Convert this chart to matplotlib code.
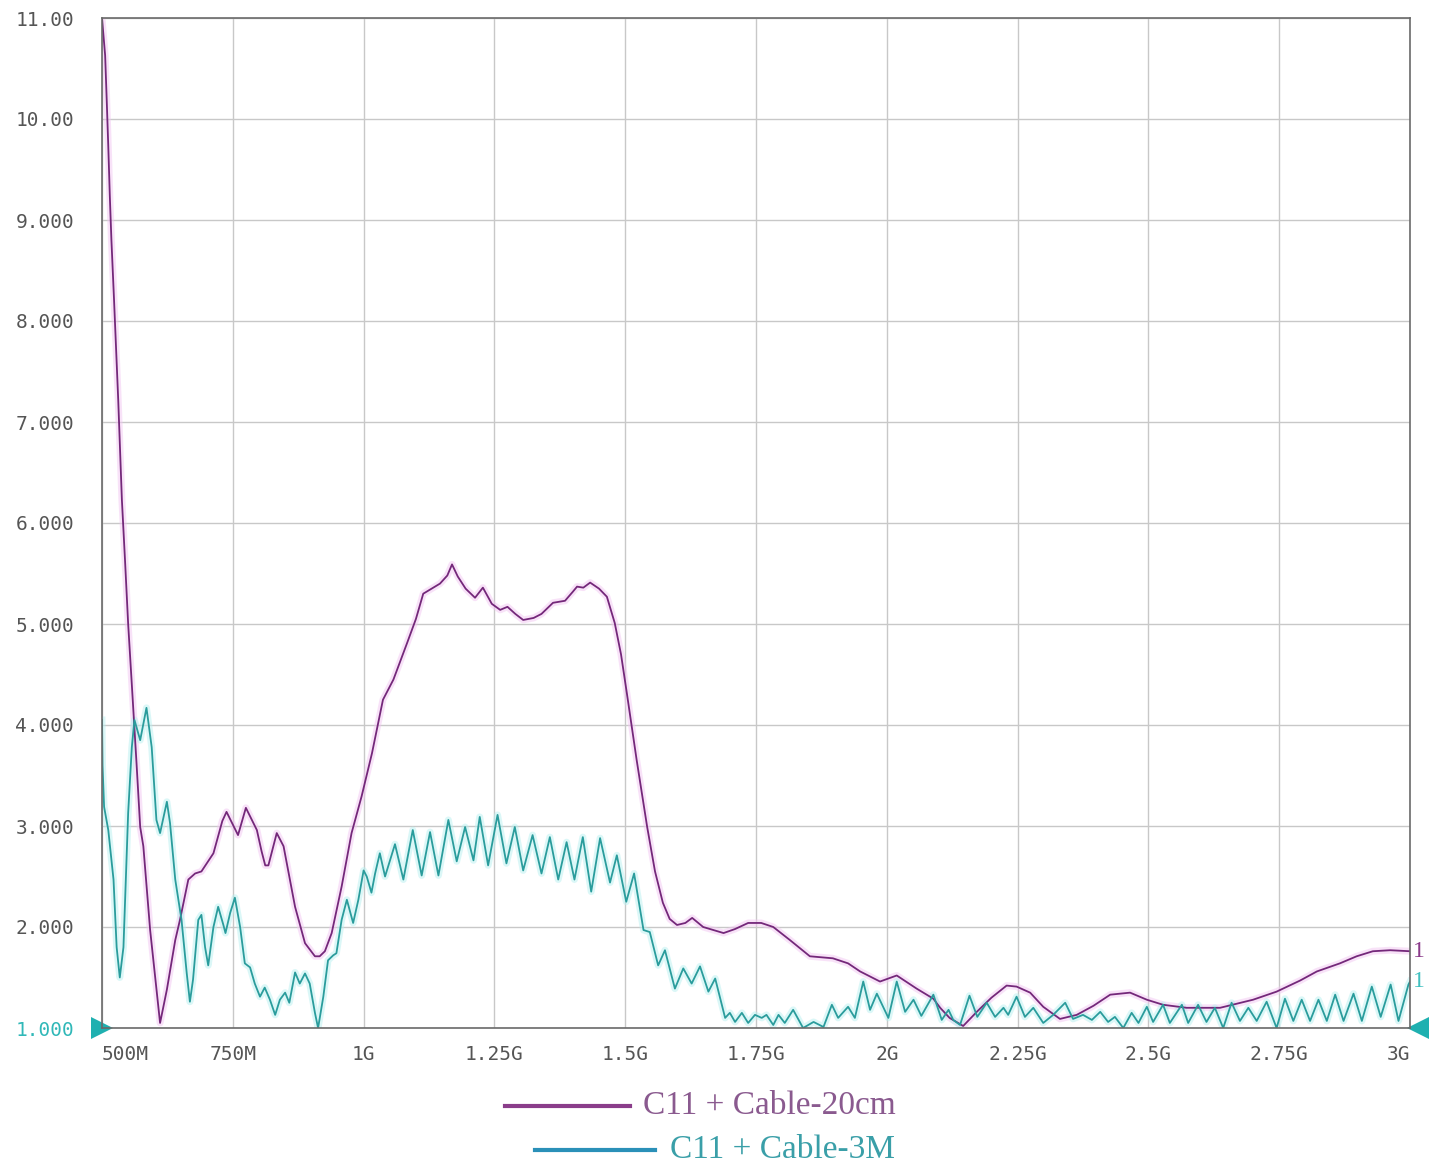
import matplotlib
matplotlib.use("Agg")
import matplotlib.pyplot as plt
from matplotlib.lines import Line2D

# frequency in MHz, VSWR values
purple_freq = [500, 506, 509, 512, 515, 518, 523, 531, 538, 544, 550, 557, 566, 573, 579,
               592, 611, 624, 640, 649, 665, 678, 690, 713, 730, 738, 760, 775, 796, 805,
               812, 818, 834, 847, 869, 888, 907, 916, 926, 939, 958, 977, 996, 1016, 1037,
               1057, 1083, 1100, 1114, 1146, 1160, 1169, 1180, 1195, 1213, 1228, 1245, 1261,
               1275, 1290, 1305, 1325, 1340, 1362, 1385, 1400, 1408, 1420, 1433, 1450, 1465,
               1480, 1492, 1503, 1522, 1542, 1557, 1572, 1585, 1599, 1615, 1628, 1649, 1688,
               1710, 1735, 1760, 1783, 1815, 1853, 1897, 1926, 1949, 1987, 2019, 2057, 2089,
               2102, 2120, 2146, 2172, 2200, 2229, 2248, 2274, 2299, 2331, 2363, 2395, 2427,
               2465, 2497, 2528, 2573, 2637, 2700, 2745, 2790, 2822, 2866, 2898, 2929, 2962,
               3000]
purple_vswr = [11.0, 10.63, 10.19, 9.73, 9.23, 8.80, 8.21, 7.22, 6.23, 5.63, 5.00, 4.40, 3.62,
               2.99, 2.80, 1.97, 1.05, 1.38, 1.87, 2.07, 2.47, 2.53, 2.55, 2.73, 3.05, 3.14,
               2.91, 3.18, 2.96, 2.75, 2.61, 2.61, 2.93, 2.80, 2.20, 1.84, 1.71, 1.71, 1.76,
               1.94, 2.40, 2.93, 3.29, 3.72, 4.25, 4.45, 4.81, 5.05, 5.30, 5.40, 5.48, 5.59,
               5.47, 5.35, 5.26, 5.36, 5.20, 5.14, 5.17, 5.10, 5.04, 5.06, 5.10, 5.21, 5.23,
               5.32, 5.37, 5.36, 5.41, 5.35, 5.27, 5.01, 4.70, 4.32, 3.65, 2.99, 2.55, 2.24,
               2.08, 2.02, 2.04, 2.09, 2.00, 1.94, 1.98, 2.04, 2.04, 2.00, 1.87, 1.71, 1.69,
               1.64, 1.56, 1.46, 1.52, 1.39, 1.29, 1.20, 1.10, 1.02, 1.16, 1.30, 1.42, 1.41,
               1.35, 1.21, 1.09, 1.13, 1.22, 1.33, 1.35, 1.28, 1.23, 1.20, 1.20, 1.28, 1.36,
               1.47, 1.56, 1.64, 1.71, 1.76, 1.77, 1.76]

cyan_freq = [500, 501, 504, 512, 522, 528, 534, 541, 550, 557, 562, 573, 585, 595, 604, 611,
             624, 630, 640, 652, 662, 668, 674, 684, 690, 697, 703, 713, 722, 732, 736, 745,
             754, 764, 773, 783, 792, 802, 811, 821, 831, 840, 850, 858, 869, 878, 888, 897,
             907, 913, 923, 932, 942, 948, 958, 968, 980, 990, 1000, 1006, 1015, 1022, 1031,
             1041, 1060, 1076, 1094, 1111, 1127, 1143, 1162, 1178, 1194, 1210, 1222, 1238,
             1256, 1273, 1289, 1305, 1323, 1340, 1356, 1372, 1388, 1403, 1419, 1435, 1452,
             1471, 1484, 1502, 1517, 1535, 1547, 1563, 1576, 1595, 1611, 1627, 1643, 1659,
             1672, 1691, 1700, 1710, 1723, 1735, 1748, 1761, 1770, 1783, 1793, 1805, 1821,
             1840, 1860, 1879, 1895, 1907, 1926, 1939, 1955, 1968, 1981, 2003, 2019, 2035,
             2051, 2066, 2089, 2105, 2118, 2127, 2140, 2158, 2173, 2191, 2207, 2223, 2232,
             2248, 2264, 2280, 2299, 2318, 2341, 2356, 2375, 2392, 2408, 2423, 2436, 2452,
             2468, 2481, 2497, 2509, 2528, 2541, 2564, 2576, 2595, 2611, 2627, 2643, 2659,
             2675, 2691, 2707, 2726, 2745, 2761, 2777, 2793, 2809, 2825, 2841, 2857, 2873,
             2892, 2908, 2927, 2944, 2963, 2978, 2997, 3000]
cyan_vswr = [4.05, 3.60, 3.19, 2.96, 2.47, 1.80, 1.50, 1.80, 3.13, 3.78, 4.05, 3.85, 4.17,
             3.78, 3.06, 2.93, 3.24, 3.03, 2.47, 2.07, 1.54, 1.26, 1.48, 2.07, 2.12, 1.80,
             1.62, 2.00, 2.20, 2.02, 1.94, 2.14, 2.29, 2.00, 1.64, 1.60, 1.44, 1.31, 1.40,
             1.28, 1.13, 1.28, 1.35, 1.25, 1.55, 1.44, 1.54, 1.44, 1.15, 1.00, 1.31, 1.67,
             1.72, 1.74, 2.07, 2.27, 2.04, 2.27, 2.56, 2.50, 2.34, 2.53, 2.73, 2.50, 2.82,
             2.47, 2.96, 2.51, 2.94, 2.51, 3.06, 2.65, 2.99, 2.66, 3.09, 2.61, 3.11, 2.63,
             2.99, 2.56, 2.91, 2.53, 2.89, 2.47, 2.84, 2.47, 2.89, 2.35, 2.88, 2.44, 2.71,
             2.25, 2.53, 1.97, 1.95, 1.62, 1.77, 1.39, 1.59, 1.44, 1.61, 1.36, 1.49, 1.10,
             1.15, 1.06, 1.15, 1.05, 1.13, 1.10, 1.13, 1.03, 1.13, 1.05, 1.18, 1.00, 1.06,
             1.01, 1.23, 1.10, 1.21, 1.10, 1.46, 1.18, 1.34, 1.10, 1.46, 1.16, 1.28, 1.12,
             1.33, 1.08, 1.18, 1.08, 1.03, 1.32, 1.11, 1.25, 1.11, 1.20, 1.13, 1.31, 1.11,
             1.20, 1.05, 1.13, 1.25, 1.09, 1.13, 1.08, 1.16, 1.06, 1.11, 1.00, 1.15, 1.05,
             1.21, 1.06, 1.23, 1.05, 1.23, 1.05, 1.23, 1.06, 1.20, 1.00, 1.25, 1.07, 1.20,
             1.07, 1.26, 1.00, 1.29, 1.07, 1.28, 1.07, 1.28, 1.07, 1.33, 1.07, 1.34, 1.07,
             1.41, 1.11, 1.43, 1.07, 1.43, 1.46]

x_ticks = [500, 750, 1000, 1250, 1500, 1750, 2000, 2250, 2500, 2750, 3000]
x_labels = ["500M", "750M", "1G", "1.25G", "1.5G", "1.75G", "2G", "2.25G", "2.5G", "2.75G", "3G"]
y_ticks = [1, 2, 3, 4, 5, 6, 7, 8, 9, 10, 11]
y_labels = ["1.000", "2.000", "3.000", "4.000", "5.000", "6.000", "7.000", "8.000", "9.000",
            "10.00", "11.00"]
legend_labels = ["C11 + Cable-20cm", "C11 + Cable-3M"]

PURPLE = "#74287a"
CYAN = "#2a9c9c"
W, H = 1434, 1169

fig = plt.figure(figsize=(W / 100, H / 100), dpi=100, facecolor="white")
ax = fig.add_axes([102 / W, 1 - 1028 / H, (1410 - 102) / W, (1028 - 18) / H])

ax.plot(purple_freq, purple_vswr, color="#f2c6f2", lw=5, alpha=0.5, solid_joinstyle="round")
ax.plot(cyan_freq, cyan_vswr, color="#b8f0f0", lw=5, alpha=0.5, solid_joinstyle="round")
ax.plot(purple_freq, purple_vswr, color=PURPLE, lw=1.3)
ax.plot(cyan_freq, cyan_vswr, color=CYAN, lw=1.3)

ax.set_xlim(500, 3000)
ax.set_ylim(1, 11)
ax.set_xticks(x_ticks)
ax.set_xticklabels(x_labels)
ax.set_yticks(y_ticks)
ax.set_yticklabels(y_labels)
ax.grid(True, color="#c8c8c8", lw=1)
ax.set_axisbelow(True)
ax.tick_params(length=0, labelsize=14, labelcolor="#555555")
ax.tick_params(axis="y", pad=20)
ax.tick_params(axis="x", pad=12)
for lbl in ax.get_xticklabels() + ax.get_yticklabels():
    lbl.set_family("DejaVu Sans Mono")
xl = ax.get_xticklabels()
xl[0].set_ha("left")
xl[-1].set_ha("right")
ax.get_yticklabels()[0].set_color("#30b8b8")
for s in ax.spines.values():
    s.set_color("#6a6a6a")
    s.set_linewidth(1.2)

# reference markers at the bottom of the scale
ax.plot([0], [0], marker=">", ms=16, color="#1fb0b0", transform=ax.transAxes,
        clip_on=False, markeredgewidth=0)
ax.plot([1.006], [0], marker="<", ms=16, color="#1fb0b0", transform=ax.transAxes,
        clip_on=False, markeredgewidth=0)
ax.annotate("1", (purple_freq[-1], purple_vswr[-1]), xytext=(2, 0), textcoords="offset points",
            va="center", ha="left", color="#8a3a8a", fontsize=17, family="Liberation Serif",
            annotation_clip=False)
ax.annotate("1", (cyan_freq[-1], cyan_vswr[-1]), xytext=(2, 0), textcoords="offset points",
            va="center", ha="left", color="#40c0c0", fontsize=17, family="Liberation Serif",
            annotation_clip=False)

# legend drawn under the plot
fig.add_artist(Line2D([505 / W, 630 / W], [1 - 1106 / H] * 2, color="#8a3d8a", lw=3))
fig.text(643 / W, 1 - 1106 / H, legend_labels[0], color="#8a5a8f", fontsize=24,
         family="Liberation Serif", va="center", ha="left")
fig.add_artist(Line2D([535 / W, 655 / W], [1 - 1150 / H] * 2, color="#2a90b8", lw=3))
fig.text(670 / W, 1 - 1150 / H, legend_labels[1], color="#3a9fa8", fontsize=24,
         family="Liberation Serif", va="center", ha="left")

fig.savefig("out.png", dpi=100, facecolor="white")
